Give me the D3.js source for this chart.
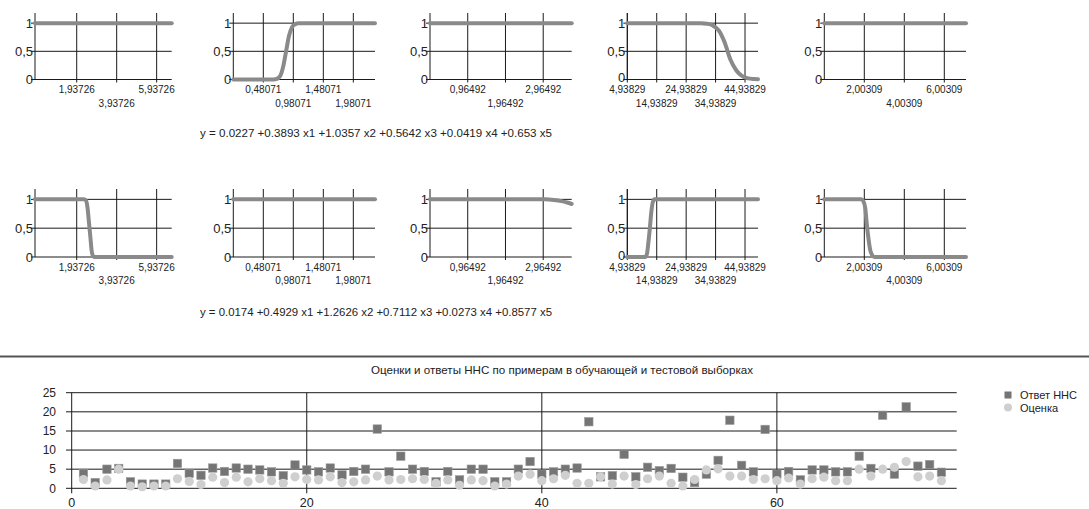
<!DOCTYPE html>
<html><head><meta charset="utf-8">
<script src="https://cdn.jsdelivr.net/npm/d3@7"></script>
<style>
html,body{margin:0;padding:0;background:#fff;}
svg{display:block;font-family:"Liberation Sans",Arial,sans-serif;}
</style></head>
<body><svg id="c" width="1089" height="509"></svg>
<script>
// ---------- DATA ----------
const ticksX1 = [1.93726, 3.93726, 5.93726];
const ticksX2 = [0.48071, 0.98071, 1.48071, 1.98071];
const ticksX3 = [0.96492, 1.96492, 2.96492];
const ticksX4 = [4.93829, 14.93829, 24.93829, 34.93829, 44.93829];
const ticksX5 = [2.00309, 4.00309, 6.00309];
const domX1 = [-0.15, 6.69];
const domX2 = [-0.0193, 2.342];
const domX3 = [-0.035, 3.72];
const domX4 = [4.93829, 49.35];
const domX5 = [0.00309, 7.088];
const yTicksSmall = [0, 0.5, 1];
const yTickLabelsSmall = ["0", "0,5", "1"];

// row 1 curves (x values / y values)
const r1c1x = [-0.15, 1, 2, 3, 4, 5, 6, 6.69];
const r1c1y = [1, 1, 1, 1, 1, 1, 1, 1];
const r1c2x = [-0.0193, 0.3, 0.6, 0.7, 0.76, 0.81, 0.86, 0.91, 0.96, 1.01, 1.07, 1.3, 1.7, 2.1, 2.342];
const r1c2y = [0, 0, 0, 0.01, 0.06, 0.22, 0.5, 0.78, 0.93, 0.98, 1, 1, 1, 1, 1];
const r1c3x = [-0.035, 0.5, 1.5, 2.5, 3.2, 3.72];
const r1c3y = [1, 1, 1, 1, 1, 1];
const r1c4x = [4.93829, 15, 25, 30, 32, 34, 36, 38, 40, 42, 44, 46, 48, 49.35];
const r1c4y = [1, 1, 1, 1, 0.99, 0.96, 0.87, 0.66, 0.35, 0.16, 0.06, 0.02, 0.008, 0.004];
const r1c5x = [0.00309, 2, 4, 6, 7.088];
const r1c5y = [1, 1, 1, 1, 1];

// row 2 curves
const r2c1x = [-0.15, 1, 2, 2.3, 2.4, 2.48, 2.55, 2.62, 2.68, 2.75, 2.85, 4, 5.5, 6.69];
const r2c1y = [1, 1, 1, 1, 0.98, 0.85, 0.6, 0.35, 0.12, 0.02, 0, 0, 0, 0];
const r2c2x = [-0.0193, 0.5, 1, 1.5, 2, 2.342];
const r2c2y = [1, 1, 1, 1, 1, 1];
const r2c3x = [-0.035, 1, 2, 3, 3.25, 3.45, 3.6, 3.72];
const r2c3y = [1, 1, 1, 1, 0.99, 0.97, 0.945, 0.92];
const r2c4x = [4.93829, 8, 11, 11.6, 12.1, 12.6, 13.1, 13.6, 14.2, 20, 30, 40, 49.35];
const r2c4y = [0, 0, 0, 0.05, 0.25, 0.5, 0.78, 0.95, 1, 1, 1, 1, 1];
const r2c5x = [0.00309, 1, 1.85, 1.95, 2.05, 2.12, 2.2, 2.3, 2.4, 2.5, 4, 6, 7.088];
const r2c5y = [1, 1, 1, 0.97, 0.85, 0.6, 0.35, 0.12, 0.03, 0, 0, 0, 0];

const equation1 = "y = 0.0227 +0.3893 x1 +1.0357 x2 +0.5642 x3 +0.0419 x4 +0.653 x5";
const equation2 = "y = 0.0174 +0.4929 x1 +1.2626 x2 +0.7112 x3 +0.0273 x4 +0.8577 x5";

// bottom chart
const bottomTitle = "Оценки и ответы ННС по примерам в обучающей и тестовой выборках";
const seriesNames = ["Ответ ННС", "Оценка"];
const answersNN = [3.9, 1.5, 5.0, 5.2, 1.7, 1.1, 1.1, 1.1, 6.5, 3.9, 3.4, 5.3, 4.4, 5.3, 5.0, 4.8, 4.3, 3.3, 6.1, 4.8,
  4.3, 5.3, 3.5, 4.4, 5.0, 15.5, 4.3, 8.4, 5.0, 4.4, 1.7, 4.4, 2.2, 5.0, 5.0, 1.7, 1.7, 5.0, 7.0, 3.7,
  4.3, 5.0, 5.3, 17.4, 3.0, 3.3, 8.9, 3.0, 5.5, 4.6, 5.2, 2.9, 1.5, 3.7, 7.3, 17.8, 6.0, 4.3, 15.4, 3.7,
  4.4, 2.2, 4.8, 4.8, 4.3, 4.3, 8.4, 5.2, 19.1, 3.7, 21.3, 5.8, 6.2, 4.2];
const estimates = [2.3, 0.6, 2.2, 5.0, 0.6, 0.4, 0.6, 0.6, 2.5, 1.8, 1.0, 2.9, 1.5, 2.9, 1.7, 2.5, 2.0, 1.3, 3.0, 2.3,
  2.2, 3.0, 1.5, 1.7, 2.2, 3.2, 2.2, 2.3, 2.5, 2.3, 1.3, 2.2, 0.8, 2.2, 2.0, 0.6, 1.1, 3.2, 3.7, 2.0,
  2.5, 3.4, 1.3, 1.3, 3.0, 1.1, 3.2, 1.0, 2.5, 3.2, 1.3, 0.6, 2.3, 4.8, 5.1, 3.2, 3.2, 2.3, 2.5, 2.0,
  2.7, 1.1, 2.5, 2.9, 2.0, 2.0, 5.0, 3.2, 5.0, 5.5, 7.0, 3.0, 3.2, 2.0];
const bottomXTicks = [0, 20, 40, 60];
const bottomYTicks = [0, 5, 10, 15, 20, 25];
const bottomXDomain = [0, 75.3];
const bottomYDomain = [0, 25];

// ---------- LAYOUT ----------
const svg = d3.select("#c");
const panelX = [[35, 171.7], [233.3, 375], [430, 571.7], [627.3, 758], [824.3, 966]];
const rows = [
  {bottom: 79.5, top: 13, eqY: 137, eq: equation1,
   curves: [[r1c1x, r1c1y], [r1c2x, r1c2y], [r1c3x, r1c3y], [r1c4x, r1c4y], [r1c5x, r1c5y]]},
  {bottom: 257, top: 189, eqY: 316, eq: equation2,
   curves: [[r2c1x, r2c1y], [r2c2x, r2c2y], [r2c3x, r2c3y], [r2c4x, r2c4y], [r2c5x, r2c5y]]}
];
const doms = [domX1, domX2, domX3, domX4, domX5];
const tks = [ticksX1, ticksX2, ticksX3, ticksX4, ticksX5];
const fmt = v => d3.format(".5f")(v).replace(".", ",");

rows.forEach(row => {
  row.curves.forEach((cv, k) => {
    const [L, R] = panelX[k];
    const x = d3.scaleLinear().domain(doms[k]).range([L, R]);
    const y = d3.scaleLinear().domain([0, 1.18]).range([row.bottom, row.top]);
    const g = svg.append("g");
    yTicksSmall.forEach((t, j) => {
      g.append("line").attr("x1", L - 4).attr("x2", R).attr("y1", y(t)).attr("y2", y(t))
        .attr("stroke", "#1a1a1a").attr("stroke-width", 1);
      g.append("text").attr("x", L - 2).attr("y", y(t) + 4.5 - (t === 0 && k === 3 ? 2 : 0)).attr("text-anchor", "end")
        .attr("font-size", 13).attr("fill", "#222").text(yTickLabelsSmall[j]);
    });
    g.append("line").attr("x1", L).attr("x2", L).attr("y1", row.top).attr("y2", row.bottom)
      .attr("stroke", "#1a1a1a").attr("stroke-width", 1);
    tks[k].forEach((t, j) => {
      g.append("line").attr("x1", x(t)).attr("x2", x(t)).attr("y1", row.top).attr("y2", row.bottom + 3)
        .attr("stroke", "#1a1a1a").attr("stroke-width", 1);
      g.append("text").attr("x", x(t)).attr("y", row.bottom + (j % 2 === 0 ? 13.5 : 27))
        .attr("text-anchor", "middle").attr("font-size", 10).attr("fill", "#222").text(fmt(t));
    });
    const pts = cv[0].map((xv, i) => [xv, cv[1][i]]);
    g.append("path").datum(pts)
      .attr("d", d3.line().x(d => x(d[0])).y(d => y(d[1])).curve(d3.curveMonotoneX))
      .attr("fill", "none").attr("stroke", "#8a8a8a").attr("stroke-width", 4)
      .attr("stroke-linecap", "round").attr("stroke-linejoin", "round");
  });
  svg.append("text").attr("x", 200).attr("y", row.eqY).attr("font-size", 10).attr("fill", "#222")
    .attr("textLength", 352).attr("lengthAdjust", "spacingAndGlyphs").text(row.eq);
});

// separator
svg.append("line").attr("x1", 0).attr("x2", 1089).attr("y1", 356.5).attr("y2", 356.5)
  .attr("stroke", "#555").attr("stroke-width", 2);

// bottom chart
const bx = d3.scaleLinear().domain(bottomXDomain).range([71.7, 956.7]);
const by = d3.scaleLinear().domain(bottomYDomain).range([488.3, 392.7]);
svg.append("text").attr("x", 562).attr("y", 374).attr("text-anchor", "middle").attr("font-size", 11)
  .attr("fill", "#222").attr("textLength", 382).attr("lengthAdjust", "spacingAndGlyphs").text(bottomTitle);

bottomYTicks.forEach(t => {
  svg.append("line").attr("x1", 66).attr("x2", 956.7).attr("y1", by(t)).attr("y2", by(t))
    .attr("stroke", t === 15 ? "#666" : "#1a1a1a").attr("stroke-width", t === 15 ? 1.5 : 1);
  svg.append("text").attr("x", 56).attr("y", by(t) + 4.3).attr("text-anchor", "end")
    .attr("font-size", 12).attr("fill", "#222").text(t);
});
bottomXTicks.forEach(t => {
  svg.append("line").attr("x1", bx(t)).attr("x2", bx(t)).attr("y1", by(25)).attr("y2", by(0) + 5)
    .attr("stroke", "#1a1a1a").attr("stroke-width", 1);
  svg.append("text").attr("x", bx(t)).attr("y", 506.5).attr("text-anchor", "middle")
    .attr("font-size", 12.5).attr("fill", "#222").text(t);
});

svg.append("g").selectAll("rect").data(answersNN).join("rect")
  .attr("x", (d, i) => bx(i + 1) - 4.2).attr("y", d => by(d) - 4.2)
  .attr("width", 8.4).attr("height", 8.4).attr("fill", "#757575").attr("stroke", "#999").attr("stroke-width", 0.6);
svg.append("g").selectAll("circle").data(estimates).join("circle")
  .attr("cx", (d, i) => bx(i + 1)).attr("cy", d => by(d)).attr("r", 4.6).attr("fill", "#cfcfcf");

// legend
svg.append("rect").attr("x", 1004.5).attr("y", 391.5).attr("width", 7).attr("height", 7).attr("fill", "#757575");
svg.append("text").attr("x", 1020).attr("y", 399).attr("font-size", 11).attr("fill", "#222").text(seriesNames[0]);
svg.append("circle").attr("cx", 1008).attr("cy", 407.5).attr("r", 4).attr("fill", "#cfcfcf");
svg.append("text").attr("x", 1020).attr("y", 411.5).attr("font-size", 11).attr("fill", "#222").text(seriesNames[1]);
</script></body></html>
